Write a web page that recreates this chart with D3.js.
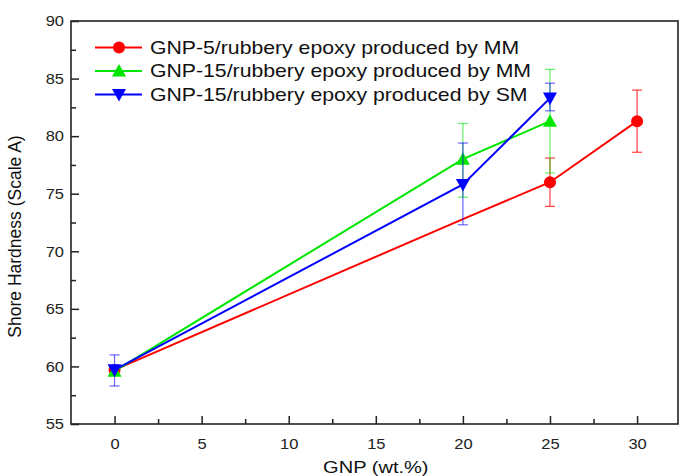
<!DOCTYPE html>
<html>
<head>
<meta charset="utf-8">
<script src="https://cdn.jsdelivr.net/npm/d3@7"></script>
<style>
  body { margin: 0; background: #fff; }
  text { font-family: "Liberation Sans", Arial, sans-serif; }
</style>
</head>
<body>
<div id="chart"></div>
<script>
// data
const seriesNames = [
  "GNP-5/rubbery epoxy produced by MM",
  "GNP-15/rubbery epoxy produced by MM",
  "GNP-15/rubbery epoxy produced by SM"
]
const mm5X = [0, 20, 25, 30]
const mm5Y = [59.7, 72.8, 76.0, 81.3]
const mm5Marked = [true, false, true, true]
const mm5Err = [null, null, [73.9, 78.1], [78.6, 84.0]]

const mm15X = [0, 20, 25]
const mm15Y = [59.6, 78.0, 81.3]
const mm15Err = [null, [74.7, 81.1], [76.8, 85.8]]

const sm15X = [0, 20, 25]
const sm15Y = [59.7, 75.8, 83.3]
const sm15Err = [[58.3, 61.0], [72.3, 79.4], [82.2, 84.6]]

const xTicks = [0, 5, 10, 15, 20, 25, 30]
const yTicks = [55, 60, 65, 70, 75, 80, 85, 90]

const MARGIN = { TOP: 21, BOTTOM: 52, LEFT: 71, RIGHT: 3 }
const WIDTH = 681 - MARGIN.LEFT - MARGIN.RIGHT
const HEIGHT = 476 - MARGIN.TOP - MARGIN.BOTTOM

// the source picture is a bit stretched sideways, so horizontal text is too
const STRETCH = 1.18

const svg = d3.select("#chart")
  .append("svg")
  .attr("width", 681)
  .attr("height", 476)
  .append("g")
  .attr("transform", "translate(" + MARGIN.LEFT + "," + MARGIN.TOP + ")")

const x = d3.scaleLinear().domain([-2.5, 32.35]).range([0, WIDTH])
const y = d3.scaleLinear().domain([55, 90]).range([HEIGHT, 0])

// frame
svg.append("rect")
  .attr("width", WIDTH).attr("height", HEIGHT)
  .attr("fill", "none").attr("stroke", "#222").attr("stroke-width", 1.6)

// axes, ticks pointing inward
const xMinor = d3.range(2.5, 32, 5)
const yMinor = d3.range(57.5, 90, 5)

svg.append("g")
  .attr("transform", "translate(0," + HEIGHT + ")")
  .call(d3.axisBottom(x).tickValues(xTicks).tickSize(-8).tickPadding(14).tickFormat(d3.format("d")))
svg.append("g")
  .attr("transform", "translate(0," + HEIGHT + ")")
  .call(d3.axisBottom(x).tickValues(xMinor).tickSize(-5).tickFormat(""))

const yAxis = svg.append("g")
  .call(d3.axisLeft(y).tickValues(yTicks).tickSize(-8).tickPadding(8).tickFormat(d3.format("d")))
svg.append("g")
  .call(d3.axisLeft(y).tickValues(yMinor).tickSize(-5).tickFormat(""))

svg.selectAll(".domain").remove()
svg.selectAll(".tick line").attr("stroke", "#222").attr("stroke-width", 1.5)
svg.selectAll(".tick text").attr("font-size", 15).attr("fill", "#222")
  .style("font-family", "'Liberation Sans', Arial, sans-serif")
  .attr("transform", "scale(1.1,1)")
yAxis.selectAll(".tick text").attr("x", -7 / 1.1)

// axis titles
svg.append("text")
  .attr("transform", "translate(" + x(15) + "," + (HEIGHT + 49) + ") scale(" + STRETCH + ",1)")
  .attr("text-anchor", "middle")
  .attr("font-size", 17)
  .attr("fill", "#111")
  .text("GNP (wt.%)")

svg.append("text")
  .attr("transform", "rotate(-90)")
  .attr("x", -(HEIGHT / 2) - 14)
  .attr("y", -50)
  .attr("text-anchor", "middle")
  .attr("font-size", 17.5)
  .attr("fill", "#111")
  .text("Shore Hardness (Scale A)")

const line = d3.line().x(d => x(d[0])).y(d => y(d[1]))

const series = [
  { xs: mm5X, ys: mm5Y, err: mm5Err, marked: mm5Marked, color: "#ff0000", errColor: "rgba(255,0,0,0.75)", sym: "circle" },
  { xs: mm15X, ys: mm15Y, err: mm15Err, marked: mm15X.map(() => true), color: "#00e600", errColor: "rgba(0,230,0,0.6)", sym: "up" },
  { xs: sm15X, ys: sm15Y, err: sm15Err, marked: sm15X.map(() => true), color: "#0000ff", errColor: "rgba(0,0,255,0.6)", sym: "down" }
]

function marker(g, sym, cx, cy, color) {
  if (sym === "circle") {
    g.append("circle").attr("cx", cx).attr("cy", cy).attr("r", 6).attr("fill", color)
  } else {
    const s = 7
    const pts = sym === "up"
      ? [[cx, cy - s], [cx - s, cy + s * 0.8], [cx + s, cy + s * 0.8]]
      : [[cx, cy + s], [cx - s, cy - s * 0.8], [cx + s, cy - s * 0.8]]
    g.append("polygon").attr("points", pts.map(p => p.join(",")).join(" ")).attr("fill", color)
  }
}

series.forEach(s => {
  const g = svg.append("g")
  const pts = s.xs.map((v, i) => [v, s.ys[i]])

  // error bars
  s.err.forEach((e, i) => {
    if (!e) return
    const cx = x(s.xs[i])
    g.append("line").attr("x1", cx).attr("x2", cx).attr("y1", y(e[0])).attr("y2", y(e[1]))
      .attr("stroke", s.errColor).attr("stroke-width", 1.2)
    e.forEach(v => {
      g.append("line").attr("x1", cx - 5).attr("x2", cx + 5).attr("y1", y(v)).attr("y2", y(v))
        .attr("stroke", s.errColor).attr("stroke-width", 1.2)
    })
  })

  g.append("path").datum(pts).attr("d", line)
    .attr("fill", "none").attr("stroke", s.color).attr("stroke-width", 2)

  pts.forEach((p, i) => {
    if (s.marked[i]) marker(g, s.sym, x(p[0]), y(p[1]), s.color)
  })
})

// legend
const legend = svg.append("g").attr("transform", "translate(" + (95 - MARGIN.LEFT) + "," + (47.5 - MARGIN.TOP) + ")")
seriesNames.forEach((name, i) => {
  const s = series[i]
  const row = legend.append("g").attr("transform", "translate(0," + (i * 23.5) + ")")
  row.append("line").attr("x1", 0).attr("x2", 47).attr("y1", 0).attr("y2", 0)
    .attr("stroke", s.color).attr("stroke-width", 2)
  marker(row, s.sym, 24, 0, s.color)
  row.append("text")
    .attr("transform", "translate(55,0) scale(" + STRETCH + ",1)")
    .attr("dy", "0.35em")
    .attr("font-size", 18).attr("fill", "#111").text(name)
})
</script>
</body>
</html>
